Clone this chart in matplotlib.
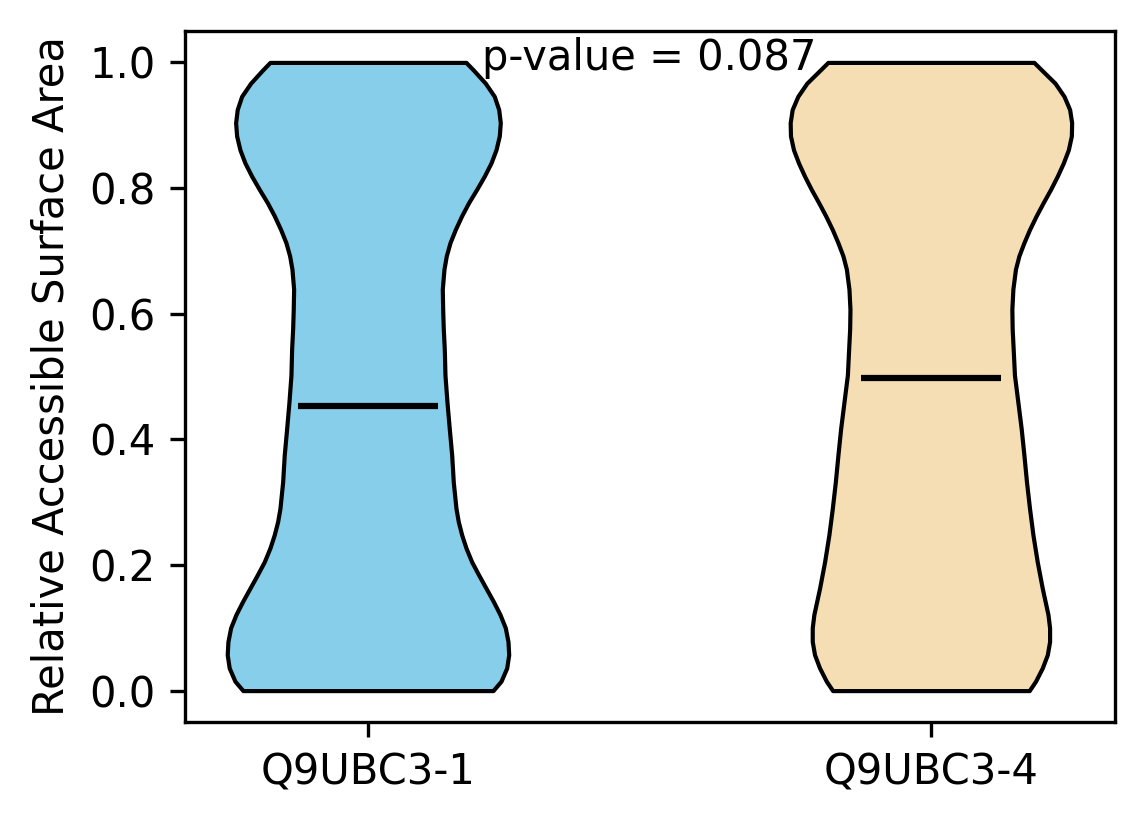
import numpy as np
import matplotlib
matplotlib.use("Agg")
import matplotlib.pyplot as plt

categories = ["Q9UBC3-1", "Q9UBC3-4"]
colors = ["#87CEEB", "#F5DEB3"]
medians = [0.453, 0.497]
p_value_text = "p-value = 0.087"

# density profile (relative half-width)
y1 = [0.0, 0.015, 0.036, 0.057, 0.078, 0.100, 0.121, 0.142, 0.163, 0.184,
      0.205, 0.227, 0.248, 0.269, 0.290, 0.332, 0.375, 0.417, 0.459, 0.502,
      0.544, 0.576, 0.607, 0.639, 0.671, 0.692, 0.713, 0.734, 0.756, 0.777,
      0.798, 0.819, 0.840, 0.861, 0.883, 0.904, 0.925, 0.946, 0.967, 0.988, 1.0]
d1 = [125, 133, 138.7, 140.7, 140, 137.3, 132, 125.3, 118, 110.7,
      103.7, 98, 93.7, 90.3, 88, 85.3, 83.7, 81.3, 79, 77,
      76.3, 75.3, 74.7, 74.3, 76, 78.3, 82, 87.3, 93.7, 100.7,
      108.7, 116.3, 123, 128, 131.3, 132.3, 130.7, 126.3, 117.3, 105.3, 98]

y2 = [0.0, 0.015, 0.036, 0.057, 0.078, 0.100, 0.121, 0.163, 0.205, 0.248,
      0.290, 0.332, 0.375, 0.417, 0.459, 0.502, 0.544, 0.576, 0.607, 0.639,
      0.671, 0.692, 0.713, 0.734, 0.756, 0.777, 0.798, 0.819, 0.840, 0.861,
      0.883, 0.904, 0.925, 0.946, 0.967, 0.988, 1.0]
d2 = [98, 104.3, 111, 116, 118.3, 118.3, 116.7, 111, 106, 101.7,
      98.3, 95.3, 92.7, 90, 86.7, 83.3, 82, 81, 80.7, 81.7,
      84.3, 87.7, 92.7, 98.3, 105, 112, 119.3, 126, 132, 137,
      140, 140.3, 138.3, 132.7, 123.7, 110.3, 102.7]

profiles = [(y1, d1), (y2, d2)]

fig = plt.figure(figsize=(1144 / 300, 824 / 300), dpi=300)
ax = fig.add_axes([185 / 1144, 1 - 722 / 824, (1115 - 185) / 1144, (722 - 31) / 824])

vpstats = []
for (yy, dd), med in zip(profiles, medians):
    vpstats.append(dict(coords=np.array(yy), vals=np.array(dd, dtype=float),
                        mean=float(np.mean(yy)), median=med,
                        min=min(yy), max=max(yy)))

parts = ax.violin(vpstats, positions=[1, 2], widths=0.5,
                  showmeans=False, showextrema=False, showmedians=True)
for body, c in zip(parts["bodies"], colors):
    body.set_facecolor(c)
    body.set_edgecolor("black")
    body.set_linewidth(1.0)
    body.set_alpha(1)
    body.set_joinstyle("round")
parts["cmedians"].set_color("black")
parts["cmedians"].set_linewidth(1.5)

ax.set_xticks([1, 2])
ax.set_xticklabels(categories)
ax.set_xlim(0.675, 2.327)
ax.set_ylim(-0.05, 1.05)
ax.set_ylabel("Relative Accessible Surface Area")
ax.text(1.5, 0.988, p_value_text, ha="center", va="baseline", fontsize=10)

fig.savefig("out.png", dpi=300)
